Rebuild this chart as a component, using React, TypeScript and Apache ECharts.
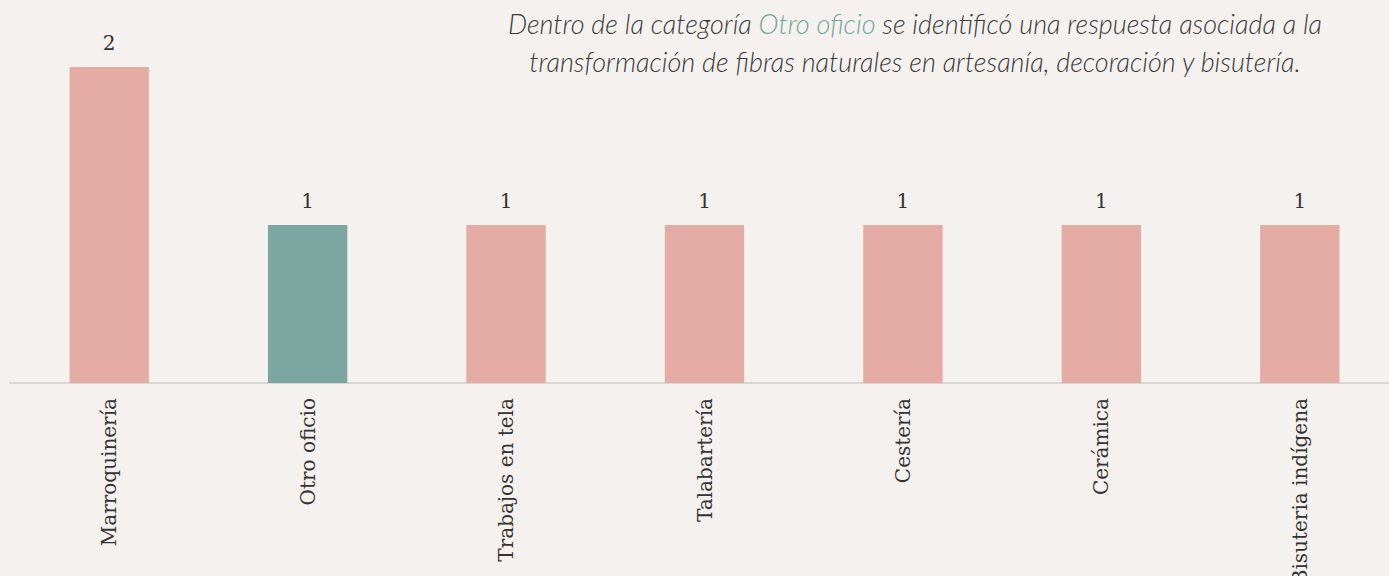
import React, { useEffect, useRef } from "react";
import * as echarts from "echarts";

const categories = [
  "Marroquinería",
  "Otro oficio",
  "Trabajos en tela",
  "Talabartería",
  "Cestería",
  "Cerámica",
  "Bisuteria indígena",
];
const values = [2, 1, 1, 1, 1, 1, 1];
const highlighted = "Otro oficio";
const titleBefore = "Dentro de la categoría ";
const titleHighlight = "Otro oficio";
const titleAfter = " se identificó una respuesta asociada a la";
const titleLine2 = "transformación de fibras naturales en artesanía, decoración y bisutería.";

const PINK = "#e5aba5";
const TEAL = "#7ba7a0";
const BG = "#f4f1ee";
const TEXT = "#333333";
const SERIF = "'DejaVu Serif', 'Liberation Serif', serif";
const TITLE_FONT = "Lato, 'Liberation Sans', sans-serif";

export default function App() {
  const ref = useRef<HTMLDivElement>(null);
  useEffect(() => {
    if (!ref.current) return;
    const chart = echarts.init(ref.current, null, { renderer: "svg" });
    chart.setOption({
      animation: false,
      backgroundColor: BG,
      grid: {
        left: 10,
        right: -10,
        top: 67,
        bottom: 193,
        containLabel: false,
        outerBoundsMode: "none",
      },
      xAxis: {
        type: "category",
        data: categories,
        axisLine: { show: true, lineStyle: { color: "#dad6d3", width: 2 } },
        axisTick: { show: false },
        axisLabel: {
          rotate: 90,
          margin: 15,
          color: TEXT,
          fontFamily: SERIF,
          fontSize: 20,
          interval: 0,
        },
      },
      yAxis: {
        type: "value",
        min: 0,
        max: 2,
        show: false,
        splitLine: { show: false },
      },
      series: [
        {
          type: "bar",
          barWidth: "40%",
          data: values.map((v, i) => ({
            value: v,
            itemStyle: { color: categories[i] === highlighted ? TEAL : PINK },
          })),
          label: {
            show: true,
            position: "top",
            distance: 14,
            color: TEXT,
            fontFamily: SERIF,
            fontSize: 20,
          },
        },
      ],
      graphic: [
        {
          type: "text",
          x: 915,
          y: 4,
          style: {
            text:
              titleBefore +
              "{h|" + titleHighlight + "}" +
              titleAfter +
              "\n" +
              titleLine2,
            align: "center",
            verticalAlign: "top",
            fill: "#3c3c3c",
            fontStyle: "italic",
            fontWeight: 300,
            fontSize: 27,
            fontFamily: TITLE_FONT,
            lineHeight: 38,
            rich: {
              h: {
                fill: "#74a59c",
                fontStyle: "italic",
                fontWeight: 300,
                fontSize: 27,
                fontFamily: TITLE_FONT,
                lineHeight: 38,
              },
            },
          },
        },
      ],
    });
    return () => chart.dispose();
  }, []);
  return (
    <div
      ref={ref}
      style={{ position: "fixed", left: 0, top: 0, width: 1389, height: 576 }}
    />
  );
}
